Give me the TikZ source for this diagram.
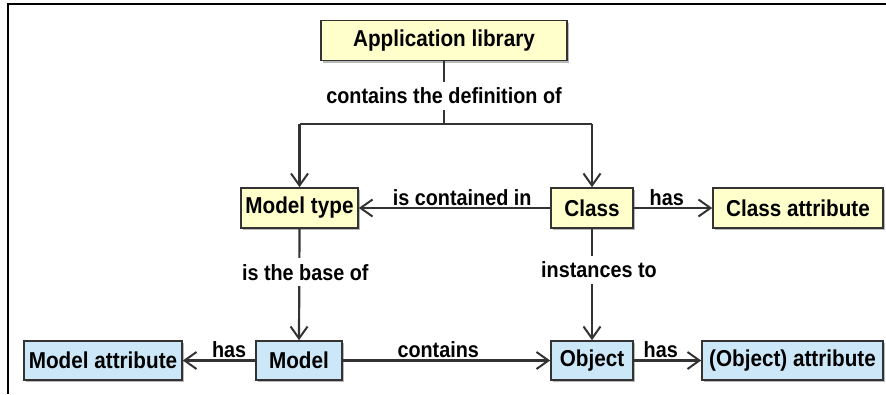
\documentclass[tikz,border=0pt]{standalone}
\usepackage{fontspec}
\setmainfont{Liberation Sans}[FakeStretch=0.9]
\usetikzlibrary{arrows.meta,shadows}
\definecolor{boxyellow}{HTML}{FFFFCC}
\definecolor{boxblue}{HTML}{CCE8F8}
\definecolor{edgegray}{HTML}{333333}
\tikzset{
  box/.style={draw=edgegray, line width=1.6pt, inner sep=0pt, minimum height=40pt,
    font=\fontsize{23}{24}\selectfont\bfseries, text=black,
    drop shadow={shadow xshift=2pt, shadow yshift=-2pt, fill=gray!55, opacity=1}},
  ybox/.style={box, fill=boxyellow},
  bbox/.style={box, fill=boxblue},
  conn/.style={draw=edgegray, line width=2.2pt},
  arr/.style={conn, -{Straight Barb[length=12pt, width=17pt, line width=2pt]}},
  lbl/.style={font=\fontsize{22}{24}\selectfont\bfseries, text=black, inner sep=1.5pt},
  gaplbl/.style={lbl, fill=white, inner ysep=6pt}
}
\begin{document}
\begin{tikzpicture}[x=1pt, y=-1pt]
\useasboundingbox (0,0) rectangle (886,394);
\draw[line width=2pt] (8,394) -- (8,4) -- (886,4);

\node[ybox, minimum width=246pt] (app) at (444,40.5) {Application library};
\node[ybox, minimum width=117pt] (mt) at (299.5,208) {Model type};
\node[ybox, minimum width=82pt] (cls) at (592,208) {Class};
\node[ybox, minimum width=170pt] (clsattr) at (798,208) {Class attribute};
\node[bbox, minimum width=158pt, minimum height=39pt] (mattr) at (103,360.5) {Model attribute};
\node[bbox, minimum width=86pt, minimum height=39pt] (model) at (299,360.5) {Model};
\node[bbox, minimum width=82pt, minimum height=39pt] (obj) at (592,360.5) {Object};
\node[bbox, minimum width=181pt, minimum height=39pt] (oattr) at (792.5,360.5) {(Object) attribute};

\coordinate (j) at (444,124);
\coordinate (jl) at (mt.north |- j);
\coordinate (jr) at (cls.north |- j);

\draw[conn] (app.south) -- node[gaplbl, pos=0.55] {contains the definition of} (j);
\draw[conn] (jl) -- (jr);
\draw[arr] (jl) -- (mt.north);
\draw[arr] (jr) -- (cls.north);

\draw[arr] (cls.west) -- node[lbl, above, pos=0.46] {is contained in} (mt.east);
\draw[arr] (cls.east) -- node[lbl, above, pos=0.42] {has} (clsattr.west);
\draw[arr] (mt.south) -- node[gaplbl, pos=0.39, xshift=6pt] {is the base of} (model.north);
\draw[arr] (cls.south) -- node[gaplbl, pos=0.37, xshift=7pt] {instances to} (obj.north);
\draw[arr] (model.west) -- node[lbl, above, pos=0.36] {has} (mattr.east);
\draw[arr] (model.east) -- node[lbl, above, pos=0.46] {contains} (obj.west);
\draw[arr] (obj.east) -- node[lbl, above, pos=0.4] {has} (oattr.west);
\end{tikzpicture}
\end{document}
